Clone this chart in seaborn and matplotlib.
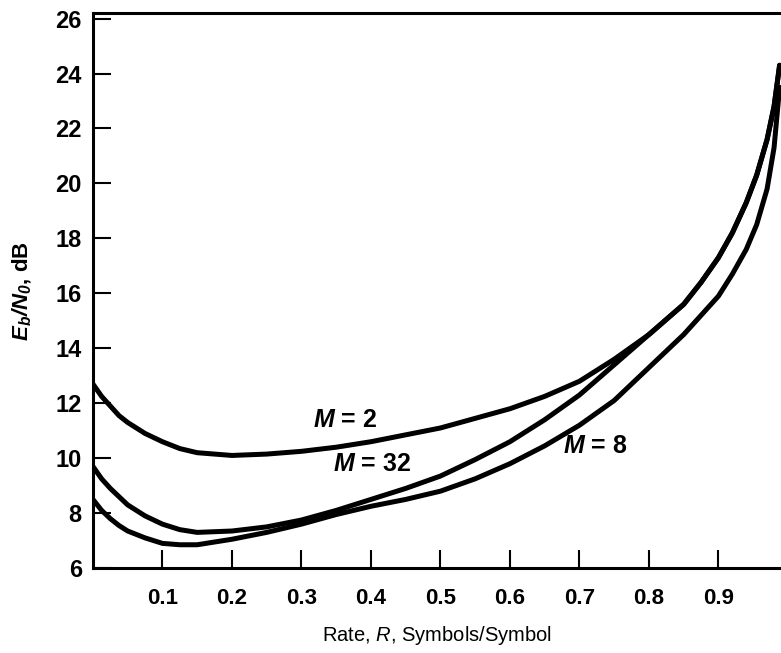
import pandas as pd
import numpy as np
import matplotlib
matplotlib.use('Agg')
import matplotlib.pyplot as plt
import seaborn as sns

rate = [0, 0.0125, 0.025, 0.0375, 0.05, 0.075, 0.1, 0.125, 0.15, 0.2, 0.25, 0.3, 0.35,
        0.4, 0.45, 0.5, 0.55, 0.6, 0.65, 0.7, 0.75, 0.8, 0.85, 0.875, 0.9, 0.92,
        0.94, 0.955, 0.97, 0.98, 0.988]
eb_m2 = [12.7, 12.25, 11.9, 11.55, 11.3, 10.9, 10.6, 10.35, 10.2, 10.1, 10.15, 10.25, 10.4,
         10.6, 10.85, 11.1, 11.45, 11.8, 12.25, 12.8, 13.6, 14.5, 15.6, 16.4, 17.3, 18.2,
         19.3, 20.3, 21.6, 22.8, 24.3]
eb_m32 = [9.7, 9.25, 8.9, 8.6, 8.3, 7.9, 7.6, 7.4, 7.3, 7.35, 7.5, 7.75, 8.1,
          8.5, 8.9, 9.35, 9.95, 10.6, 11.4, 12.3, 13.4, 14.5, 15.6, 16.4, 17.3, 18.2,
          19.3, 20.3, 21.6, 22.8, 24.3]
eb_m8 = [8.5, 8.1, 7.8, 7.55, 7.35, 7.1, 6.9, 6.85, 6.85, 7.05, 7.3, 7.6, 7.95,
         8.25, 8.5, 8.8, 9.25, 9.8, 10.45, 11.2, 12.1, 13.3, 14.5, 15.2, 15.9, 16.7,
         17.6, 18.5, 19.8, 21.3, 23.5]
series = ['M = 2', 'M = 32', 'M = 8']
x_ticks = [0.1, 0.2, 0.3, 0.4, 0.5, 0.6, 0.7, 0.8, 0.9]
y_ticks = list(range(6, 27, 2))

df = pd.DataFrame({
    'rate': rate * 3,
    'eb': eb_m2 + eb_m32 + eb_m8,
    'M': [s for s in series for _ in rate],
})

sns.set_style('ticks')
plt.rcParams['font.family'] = ['Liberation Sans', 'DejaVu Sans']
plt.rcParams['text.color'] = 'black'
plt.rcParams['axes.labelcolor'] = 'black'
plt.rcParams['xtick.color'] = 'black'
plt.rcParams['ytick.color'] = 'black'
plt.rcParams['mathtext.fontset'] = 'custom'
plt.rcParams['mathtext.rm'] = 'Liberation Sans'
plt.rcParams['mathtext.it'] = 'Liberation Sans:italic'
plt.rcParams['mathtext.bf'] = 'Liberation Sans:bold'
plt.rcParams['mathtext.bfit'] = 'Liberation Sans:bold:italic'

fig = plt.figure(figsize=(7.81, 6.53), dpi=100)
ax = fig.add_axes([0.119, 0.130, 0.881, 0.850])
sns.lineplot(data=df, x='rate', y='eb', hue='M', palette=['black'] * 3,
             linewidth=3.6, legend=False, ax=ax, sort=False,
             solid_joinstyle='round', solid_capstyle='round')

ax.set_xlim(0, 0.99)
ax.set_ylim(6, 26.2)
ax.set_xticks(x_ticks)
ax.set_xticklabels([f'{t:.1f}' for t in x_ticks], fontsize=16, fontweight='bold')
ax.set_yticks(y_ticks)
ax.set_yticklabels([str(t) for t in y_ticks], fontsize=17, fontweight='bold')
ax.tick_params(axis='both', direction='in', length=13, width=1.5)
ax.tick_params(axis='x', pad=14)
ax.tick_params(axis='y', pad=8)
for side in ['left', 'bottom', 'top']:
    ax.spines[side].set_linewidth(2.2)
    ax.spines[side].set_color('black')
ax.spines['right'].set_visible(False)

ax.set_xlabel(r'Rate, $R$, Symbols/Symbol', fontsize=14.5)
ax.xaxis.set_label_coords(0.5, -0.1)
ax.set_ylabel(r'$\mathbfit{E_b/N_0}$, dB', fontsize=16, fontweight='bold')
ax.yaxis.set_label_coords(-0.085, 0.5)

ax.text(0.363, 11.4, r'$\mathbfit{M}$ = 2', fontsize=18, fontweight='bold', ha='center', va='center')
ax.text(0.401, 9.8, r'$\mathbfit{M}$ = 32', fontsize=18, fontweight='bold', ha='center', va='center')
ax.text(0.722, 10.45, r'$\mathbfit{M}$ = 8', fontsize=18, fontweight='bold', ha='center', va='center')

plt.savefig('out.png', dpi=100)
